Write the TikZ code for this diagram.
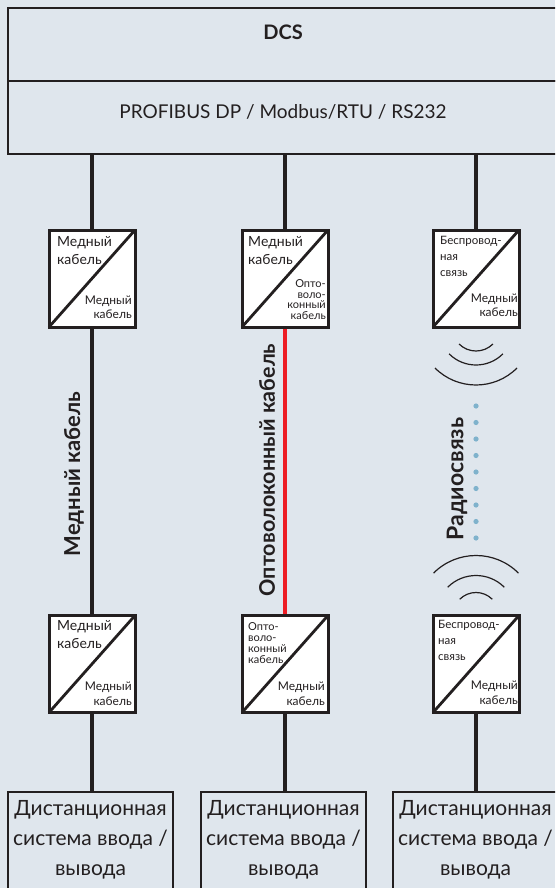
\documentclass[tikz,border=0pt]{standalone}
\usepackage{fontspec}
\setmainfont{Lato}
\usetikzlibrary{positioning, calc}

\definecolor{ink}{HTML}{231F20}
\definecolor{panel}{HTML}{DFE6ED}
\definecolor{fibre}{HTML}{ED1C24}
\definecolor{radiodot}{HTML}{7FB2CC}

\tikzset{
  wire/.style={draw=ink, line width=4.5pt},
  fibrewire/.style={draw=fibre, line width=4.5pt, shorten <=1.5pt, shorten >=1.5pt},
  topbox/.style={draw=ink, line width=2.6pt, anchor=north west, minimum width=550pt,
    inner sep=0pt, outer sep=0pt, text=ink},
  conv/.style={draw=ink, fill=white, line width=3pt, minimum width=86pt,
    minimum height=97pt, inner sep=0pt, outer sep=0pt},
  diag/.style={draw=ink, line width=2.8pt},
  io/.style={draw=ink, line width=2.6pt, anchor=north, minimum width=165pt,
    align=center, inner sep=0pt, outer sep=0pt, text=ink,
    text height=83pt, text depth=33pt, font=\fontsize{21}{30}\selectfont},
  tl/.style={anchor=north west, align=left, inner sep=0pt, text=ink},
  br/.style={anchor=south east, align=right, inner sep=0pt, text=ink},
  big/.style={font=\fontsize{14}{18}\selectfont},
  small/.style={font=\fontsize{12}{14.5}\selectfont},
  fibretxt/.style={font=\fontsize{11}{10.8}\selectfont},
  wltxt/.style={font=\fontsize{11.5}{16}\selectfont},
  vlabel/.style={rotate=90, inner sep=0pt, text=ink},
  wave/.style={draw=ink, line width=1.2pt},
}

\begin{document}
\begin{tikzpicture}[x=1pt, y=-1pt]
\clip (0,0) rectangle (555,888);
\fill[panel] (0,0) rectangle (555,888);

% control system and field bus
\node[topbox, text height=32pt, text depth=41pt, font=\fontsize{20}{22}\selectfont\bfseries]
  (dcs) at (8,8) {DCS};
\node[topbox, text height=37pt, text depth=36pt, font=\fontsize{19}{22}\selectfont]
  (bus) at (8,81) {PROFIBUS DP / Modbus/RTU / RS232};

% media converters
\node[conv] (c1t) at (92,278.5) {};
\node[conv] (c2t) at (285,278.5) {};
\node[conv] (c3t) at (476,278.5) {};
\node[conv] (c1b) at (92,664) {};
\node[conv] (c2b) at (285,664) {};
\node[conv] (c3b) at (476,664) {};
\foreach \c in {c1t,c2t,c3t,c1b,c2b,c3b}
  \draw[diag] (\c.south west) -- (\c.north east);

\node[tl, big] (c1t-a) at ($(c1t.north west)+(8,6)$) {Медный\\кабель};
\node[br, small] (c1t-b) at ($(c1t.south east)+(-3,-8)$) {Медный\\кабель};
\node[tl, big] (c2t-a) at ($(c2t.north west)+(6,6)$) {Медный\\кабель};
\node[br, fibretxt] (c2t-b) at ($(c2t.south east)+(-2,-7)$) {Опто-\\воло-\\конный\\кабель};
\node[tl, wltxt] (c3t-a) at ($(c3t.north west)+(7,6)$) {Беспровод-\\ная\\связь};
\node[br, small] (c3t-b) at ($(c3t.south east)+(-1,-10)$) {Медный\\кабель};

\node[tl, big] (c1b-a) at ($(c1b.north west)+(8,5)$) {Медный\\кабель};
\node[br, small] (c1b-b) at ($(c1b.south east)+(-3,-7)$) {Медный\\кабель};
\node[tl, fibretxt] (c2b-a) at ($(c2b.north west)+(6,7)$) {Опто-\\воло-\\конный\\кабель};
\node[br, small] (c2b-b) at ($(c2b.south east)+(-3,-7)$) {Медный\\кабель};
\node[tl, wltxt] (c3b-a) at ($(c3b.north west)+(5,5)$) {Беспровод-\\ная\\связь};
\node[br, small] (c3b-b) at ($(c3b.south east)+(-1,-8)$) {Медный\\кабель};

% remote I/O
\foreach \i/\x in {1/90.5,2/283.5,3/475.5}
  \node[io] (io\i) at (\x,792) {Дистанционная\\система ввода /\\вывода};

% cables
\foreach \c in {c1t,c2t,c3t}
  \draw[wire] (\c.north |- bus.south) -- (\c.north);
\draw[wire] (c1t.south) -- (c1b.north);
\draw[fibrewire] (c2t.south) -- (c2b.north);
\foreach \c/\i in {c1b/1,c2b/2,c3b/3}
  \draw[wire] (\c.south) -- (\c.south |- io\i.north);

% radio link
\foreach \r in {24,38,58}
  \draw[wave] (c3t.south) ++(45:\r) arc[start angle=45, end angle=135, radius=\r];
\foreach \r in {23,40,60}
  \draw[wave] (c3b.north) ++(-45:\r) arc[start angle=-45, end angle=-135, radius=\r];
\foreach \k in {0,...,8}
  \fill[radiodot] (476,406+16.5*\k) circle (2.6);

\node[vlabel, font=\fontsize{22}{24}\selectfont\bfseries] (cu-lbl) at (74,474) {Медный кабель};
\node[vlabel, font=\fontsize{21.5}{24}\selectfont\bfseries] (fo-lbl) at (267,470) {Оптоволоконный кабель};
\node[vlabel, font=\fontsize{23}{24}\selectfont\bfseries] (rf-lbl) at (457,479) {Радиосвязь};
\end{tikzpicture}
\end{document}
